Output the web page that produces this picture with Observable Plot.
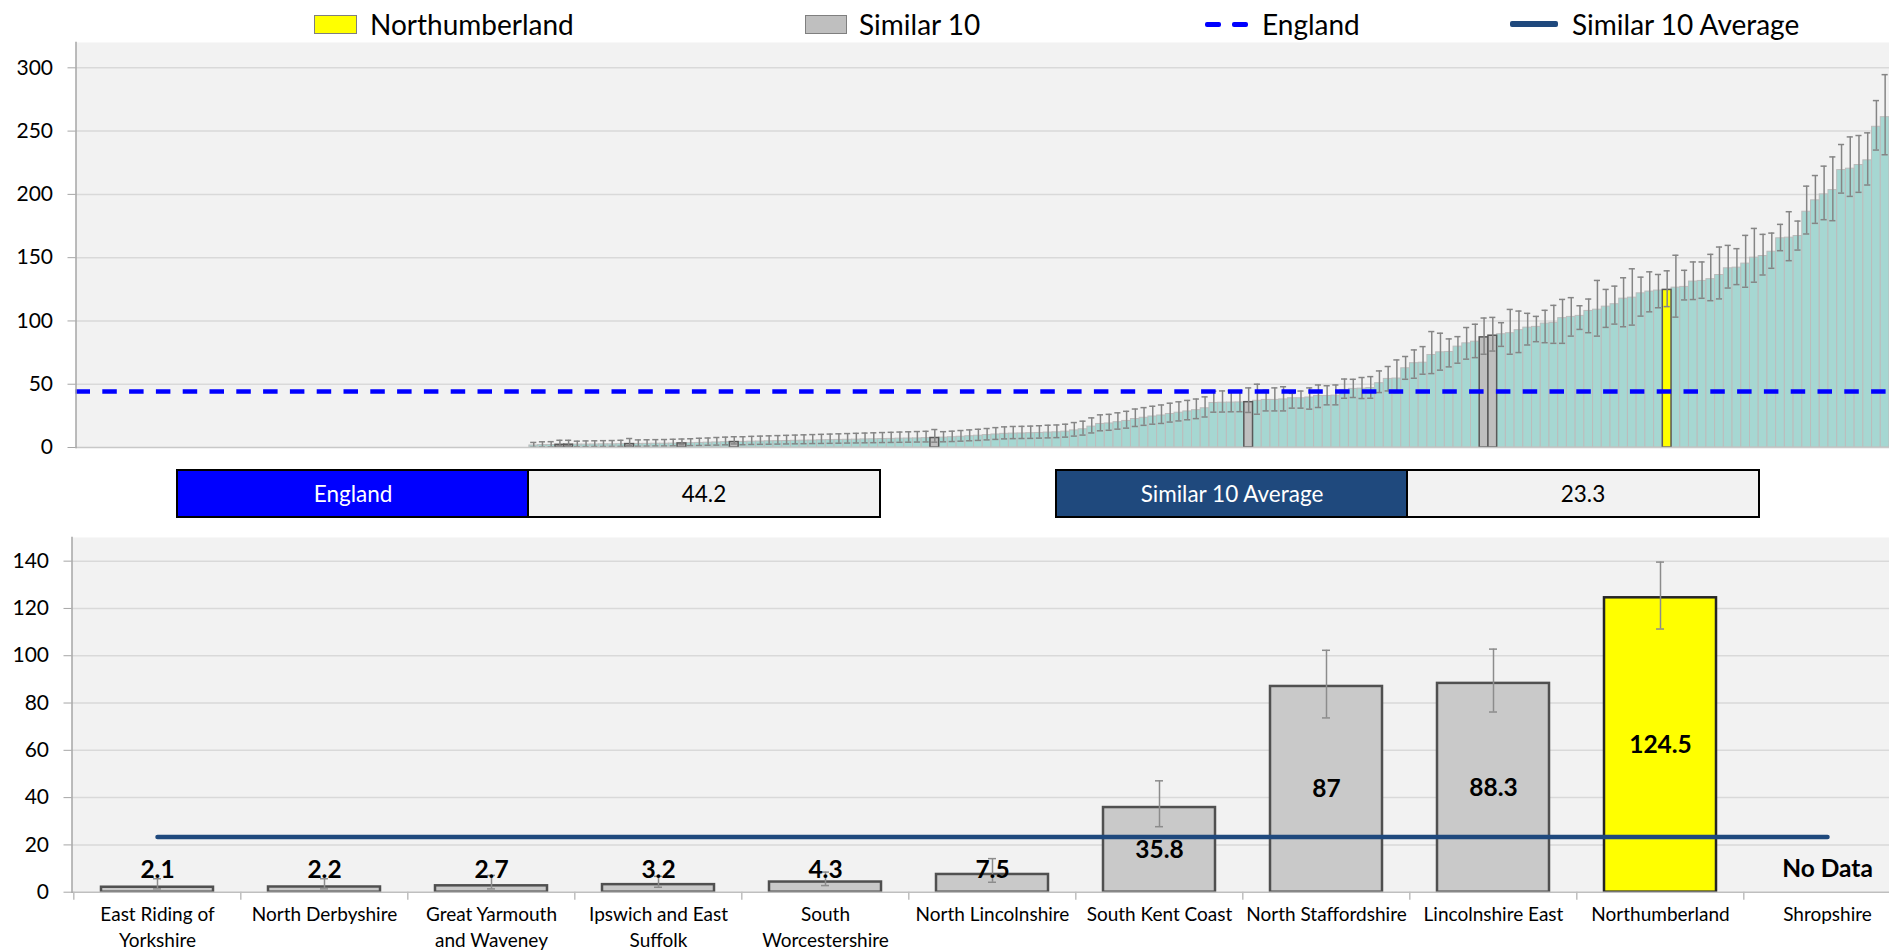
<!DOCTYPE html>
<html><head><meta charset="utf-8">
<script src="https://cdn.jsdelivr.net/npm/d3@7"></script>
<script src="https://cdn.jsdelivr.net/npm/@observablehq/plot@0.6"></script>
<style>
html,body{margin:0;padding:0;background:#fff;}
body{width:1889px;height:950px;overflow:hidden;position:relative;font-family:Lato,"Open Sans",sans-serif;color:#000;}
.a{position:absolute;}
.lgt{position:absolute;top:6px;font-size:28px;line-height:36px;white-space:nowrap;}
.box{position:absolute;top:469px;height:49px;box-sizing:border-box;border:2.5px solid #000;font-size:22.5px;display:flex;align-items:center;justify-content:center;}
</style></head><body>
<div class="a" style="left:314px;top:15px;width:43px;height:19px;background:#ffff00;border:1.5px solid #7f7f7f;box-sizing:border-box"></div>
<div class="lgt" style="left:370px">Northumberland</div>
<div class="a" style="left:805px;top:15px;width:42px;height:19px;background:#bfbfbf;border:1.5px solid #7f7f7f;box-sizing:border-box"></div>
<div class="lgt" style="left:859px">Similar 10</div>
<div class="a" style="left:1205px;top:22px;width:16px;height:5px;background:#0000ff;border-radius:2px"></div>
<div class="a" style="left:1232px;top:22px;width:16px;height:5px;background:#0000ff;border-radius:2px"></div>
<div class="lgt" style="left:1262px">England</div>
<div class="a" style="left:1510px;top:21px;width:48px;height:6px;background:#1f497d;border-radius:2px"></div>
<div class="lgt" style="left:1572px">Similar 10 Average</div>

<div id="top" class="a" style="left:0;top:42px"></div>

<div id="b1" class="box" style="left:176px;width:354px;background:#0000ff;color:#fff"></div>
<div id="b2" class="box" style="left:527px;width:354px;background:#f2f2f2;color:#000"></div>
<div id="b3" class="box" style="left:1055px;width:354px;background:#1f497d;color:#fff"></div>
<div id="b4" class="box" style="left:1406px;width:354px;background:#f2f2f2;color:#000"></div>

<div id="bottom" class="a" style="left:0;top:537px"></div>
<script>
// ---------- data ----------
const topTotal = 208;          // areas on the ranked axis
const firstWithData = 52;      // first ranked area that has a value
const rateValues = [
1.6,1.9,2.0,2.1,2.2,2.3,2.3,2.4,2.5,2.5,2.6,2.7,2.8,2.9,3.0,3.0,3.1,3.2,3.4,3.6,3.8,4.0,4.2,4.3,
4.4,4.6,4.7,4.9,5.0,5.1,5.3,5.4,5.5,5.7,5.8,6.0,6.1,6.2,6.4,6.5,6.7,6.8,7.0,7.1,7.2,7.4,7.5,
7.8,8.1,8.5,8.9,9.3,9.8,10.3,10.8,11.0,11.1,11.3,11.5,11.8,12.0,12.5,13.5,14.4,16.5,18.6,19.0,20.0,21.0,22.5,23.5,24.5,25.3,26.5,27.5,28.5,29.5,31.0,35.2,35.4,35.5,35.6,35.8,
36.9,37.6,37.6,38.0,38.9,38.9,39.5,40.7,40.7,41.0,45.5,46.3,46.5,47.0,50.8,54.2,54.5,62.6,66.6,67.0,73.1,75.2,75.5,79.7,82.3,83.6,87.0,88.3,
89.5,90.3,92.7,94.7,95.3,97.9,98.5,102.2,103.2,104.0,107.9,108.9,111.3,113.2,117.6,118.4,121.8,123.2,124.0,124.5,
126.3,126.9,131.1,131.6,133.0,136.3,141.6,142.1,145.3,150.0,151.3,154.7,165.3,165.8,167.1,186.3,195.3,200.0,203.4,219.2,220.3,223.2,226.9,253.4,261.0];
const rateLower = [
0.2,0.4,0.5,1.4,1.4,0.7,0.7,0.8,0.8,0.9,0.9,1.4,1.0,1.1,1.2,1.2,1.3,2.1,1.5,1.6,1.8,1.9,2.1,2.8,
2.2,2.4,2.5,2.6,2.7,2.8,2.9,3.0,3.1,3.2,3.3,3.4,3.5,3.6,3.7,3.8,3.9,4.0,4.1,4.2,4.3,4.4,4.2,
4.5,4.7,5.0,5.3,5.6,6.0,6.4,6.8,7.0,7.1,7.2,7.4,7.6,7.8,8.2,9.0,9.8,11.5,13.2,13.6,14.5,15.3,16.6,17.5,18.4,19.0,20.1,21.0,21.9,22.8,24.1,27.9,28.0,28.2,28.3,27.7,
26.3,28.9,28.9,28.9,31.1,31.1,30.3,31.6,33.7,33.7,38.9,39.5,38.7,38.9,43.4,44.7,43.4,53.9,54.7,57.9,58.4,61.1,63.7,66.6,69.8,71.0,73.7,76.2,
79.9,73.7,75.0,81.0,83.6,82.8,82.3,82.3,88.0,93.3,90.7,88.0,94.9,97.5,95.4,96.7,103.8,107.2,110.4,111.3,
103.0,116.6,116.9,117.9,116.0,117.4,126.0,128.7,126.6,130.6,136.3,141.6,155.5,147.6,156.0,168.7,177.1,180.0,179.2,201.0,198.4,201.6,207.4,235.0,231.3];
const rateUpper = [
4.0,4.5,4.6,5.7,5.7,5.0,5.2,5.3,5.4,5.5,5.7,7.1,6.0,6.1,6.2,6.3,6.5,6.7,6.9,7.3,7.5,7.9,8.2,8.5,
8.5,8.8,9.0,9.2,9.4,9.6,9.8,10.0,10.2,10.4,10.6,10.8,11.0,11.2,11.4,11.6,11.8,12.0,12.2,12.4,12.6,12.8,14.2,
12.5,12.9,13.4,13.9,14.4,15.0,15.7,16.3,16.6,16.7,16.9,17.2,17.6,17.8,18.4,19.7,20.8,23.4,25.8,26.2,27.4,28.6,30.4,31.5,32.6,33.6,35.0,36.1,37.2,38.3,40.0,44.5,44.7,44.8,44.9,47.1,
50.0,45.3,47.1,48.0,42.8,44.6,47.1,49.4,48.8,49.4,54.1,53.9,55.3,56.0,60.5,64.0,69.2,71.9,77.1,79.7,91.6,90.3,85.8,87.6,94.8,97.4,102.3,102.8,
98.6,109.1,107.8,106.0,103.6,108.4,112.3,117.0,118.4,112.0,117.3,132.0,124.9,127.5,134.1,141.2,134.6,138.8,136.7,139.6,
151.9,140.0,146.6,146.6,152.6,158.4,159.7,157.1,167.6,173.1,168.4,169.4,176.3,186.3,178.9,206.5,214.9,222.3,229.6,239.4,245.4,246.5,248.6,274.1,294.6];

const similarNames = ["East Riding of Yorkshire","North Derbyshire","Great Yarmouth and Waveney","Ipswich and East Suffolk","South Worcestershire","North Lincolnshire","South Kent Coast","North Staffordshire","Lincolnshire East","Northumberland","Shropshire"];
const similarLabels = ["East Riding of\nYorkshire","North Derbyshire","Great Yarmouth\nand Waveney","Ipswich and East\nSuffolk","South\nWorcestershire","North Lincolnshire","South Kent Coast","North Staffordshire","Lincolnshire East","Northumberland","Shropshire"];
const similarValues = [2.1,2.2,2.7,3.2,4.3,7.5,35.8,87,88.3,124.5,null];
const similarLower  = [1.4,1.4,1.4,2.1,2.8,4.2,27.7,73.7,76.2,111.3,null];
const similarUpper  = [5.7,5.7,7.1,6.7,8.5,14.2,47.1,102.3,102.8,139.6,null];
const similarRank   = [55,56,63,69,75,98,134,161,162,182,null];
const highlightArea = "Northumberland";
const englandValue = 44.2;
const similarAverage = 23.3;
const topTicks = [0,50,100,150,200,250,300];
const bottomTicks = [0,20,40,60,80,100,120,140];

// ---------- build ----------
const rows = rateValues.map((v,i)=>({rank:firstWithData+i, v, lo:rateLower[i], hi:rateUpper[i]}));
const sim = similarNames.map((n,i)=>({name:n, label:similarLabels[i], v:similarValues[i], lo:similarLower[i], hi:similarUpper[i], rank:similarRank[i]}));
const simHas = sim.filter(d=>d.v!=null);
const simNo = sim.filter(d=>d.v==null);
const fillFor = d => d.name===highlightArea ? "#ffff00" : "#bfbfbf";
const errC = "#858585";

const topChart = Plot.plot({
  width:1889, height:420, marginTop:0, marginBottom:15, marginLeft:75.5, marginRight:0,
  style:{fontFamily:"Lato, sans-serif", background:"transparent", overflow:"visible"},
  x:{type:"band", domain:d3.range(topTotal), padding:0, axis:null},
  y:{domain:[0,320], axis:null},
  marks:[
    Plot.frame({fill:"#f2f2f2", stroke:null}),
    Plot.gridY(topTicks.slice(1), {stroke:"#d9d9d9", strokeOpacity:1, strokeWidth:1.5}),
    Plot.barY(rows, {x:"rank", y:"v", fill:"#a6d7d2", stroke:"#bcbcbc", strokeWidth:1}),
    Plot.barY(simHas, {x:"rank", y:"v", fill:fillFor, stroke:"#595959", strokeWidth:1.5}),
    Plot.ruleX(rows, {x:"rank", y1:"lo", y2:"hi", stroke:errC, strokeWidth:1.5}),
    Plot.tickY(rows, {x:"rank", y:"hi", stroke:errC, strokeWidth:1.5, insetLeft:1.3, insetRight:1.3}),
    Plot.tickY(rows, {x:"rank", y:"lo", stroke:errC, strokeWidth:1.5, insetLeft:1.3, insetRight:1.3}),
    Plot.ruleY([englandValue], {stroke:"#0000ff", strokeWidth:4.5, strokeDasharray:"14.5,12.3"}),
    Plot.ruleY([0], {stroke:"#c8c8c8", strokeWidth:1.5}),
    Plot.frame({anchor:"left", stroke:"#a6a6a6", strokeWidth:1.5}),
    Plot.axisY(topTicks, {tickSize:8, tickPadding:15, stroke:"#a6a6a6", fill:"#000", fontSize:21})
  ]
});
document.getElementById("top").append(topChart);

document.getElementById("b1").textContent = "England";
document.getElementById("b2").textContent = String(englandValue);
document.getElementById("b3").textContent = "Similar 10 Average";
document.getElementById("b4").textContent = String(similarAverage);

const bRange = [71.5, 1913];
const step = (bRange[1]-bRange[0]) / similarNames.length;
const bottomChart = Plot.plot({
  width:1889, height:413, marginTop:0, marginBottom:58.3, marginLeft:71.5, marginRight:0,
  style:{fontFamily:"Lato, sans-serif", background:"transparent", overflow:"visible"},
  x:{type:"band", domain:similarNames, range:bRange, paddingInner:0.33, paddingOuter:0.165, axis:null},
  y:{domain:[0,150], axis:null},
  marks:[
    Plot.frame({fill:"#f2f2f2", stroke:null}),
    Plot.gridY(bottomTicks.slice(1), {stroke:"#d9d9d9", strokeOpacity:1, strokeWidth:1.5}),
    Plot.barY(simHas, {x:"name", y:"v", fill: d=> d.name===highlightArea ? "#ffff00" : "#c9c9c9", stroke: d=> d.name===highlightArea ? "#262626" : "#505050", strokeWidth:2.5}),
    Plot.ruleX(simHas, {x:"name", y1:"lo", y2:"hi", stroke:"#8c8c8c", strokeWidth:1.5}),
    Plot.tickY(simHas, {x:"name", y:"hi", stroke:"#8c8c8c", strokeWidth:1.5, insetLeft:52, insetRight:52}),
    Plot.tickY(simHas, {x:"name", y:"lo", stroke:"#8c8c8c", strokeWidth:1.5, insetLeft:52, insetRight:52}),
    Plot.lineY(similarNames, {x:d=>d, y:()=>similarAverage, stroke:"#1f497d", strokeWidth:4.5}),
    Plot.text(simHas, {x:"name", y:d=>Math.max(d.v/2, 9.5), text:d=>String(d.v), fontWeight:"bold", fontSize:24.5, fill:"#000"}),
    Plot.text(simNo, {x:"name", y:()=>9.8, text:()=>"No Data", fontWeight:"bold", fontSize:24.5, fill:"#000"}),
    Plot.ruleY([0], {stroke:"#bfbfbf", strokeWidth:1.5}),
    Plot.ruleX(similarNames, {x:d=>d, y1:0, y2:-3.4, dx:-step/2, stroke:"#bfbfbf", strokeWidth:1.5}),
    Plot.frame({anchor:"left", stroke:"#a6a6a6", strokeWidth:1.5}),
    Plot.axisY(bottomTicks, {tickSize:8, tickPadding:15, stroke:"#a6a6a6", fill:"#000", fontSize:21}),
    Plot.text(sim, {x:"name", text:"label", frameAnchor:"bottom", lineAnchor:"top", dy:11, fontSize:19, lineHeight:1.35, fill:"#000"})
  ]
});
document.getElementById("bottom").append(bottomChart);
</script>
</body></html>
